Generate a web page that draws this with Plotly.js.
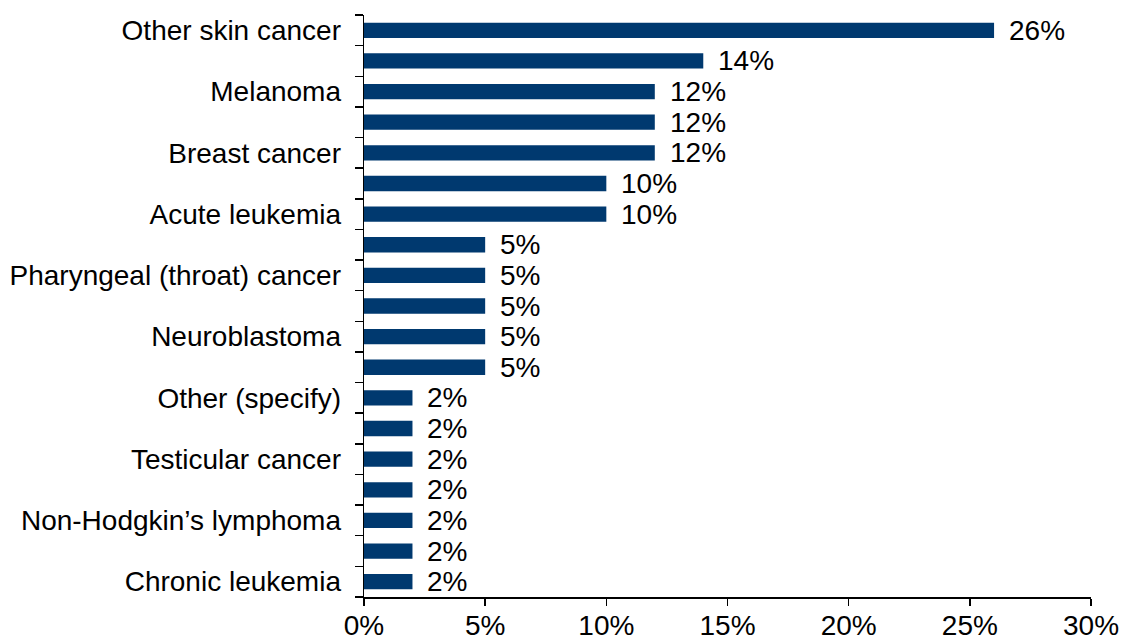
<!DOCTYPE html>
<html>
<head>
<meta charset="utf-8">
<script src="https://cdn.plot.ly/plotly-3.0.1.min.js"></script>
<style>
  html, body { margin: 0; padding: 0; background: #fff; }
  #chart { width: 1123px; height: 642px; }
</style>
</head>
<body>
<div id="chart"></div>
<script>
// Category labels (every other label is hidden in the original chart)
const categories = [
  'Other skin cancer', '',
  'Melanoma', '',
  'Breast cancer', '',
  'Acute leukemia', '',
  'Pharyngeal (throat) cancer', '',
  'Neuroblastoma', '',
  'Other (specify)', '',
  'Testicular cancer', '',
  "Non-Hodgkin\u2019s lymphoma", '',
  'Chronic leukemia'
];
// Percent values
const values = [26, 14, 12, 12, 12, 10, 10, 5, 5, 5, 5, 5, 2, 2, 2, 2, 2, 2, 2];
const xTickVals = [0, 5, 10, 15, 20, 25, 30];

const positions = categories.map((_, i) => i);
const labelVals = positions.filter(i => categories[i] !== '');
const labelText = labelVals.map(i => categories[i]);
const boundaries = [];
for (let i = 0; i <= categories.length; i++) boundaries.push(i - 0.5);

const FONT = 'Liberation Sans, Arial, sans-serif';
const FS = 28;

const traces = [
  {
    type: 'bar',
    orientation: 'h',
    x: values,
    y: positions,
    width: 0.5,
    marker: { color: '#00396F', line: { width: 0 } },
    hoverinfo: 'x+y',
    yaxis: 'y'
  },
  {
    type: 'scatter',
    x: [],
    y: [],
    yaxis: 'y2',
    showlegend: false,
    hoverinfo: 'skip'
  }
];

const annotations = values.map((v, i) => ({
  x: v, y: i, xref: 'x', yref: 'y',
  text: v + '%',
  showarrow: false,
  xanchor: 'left', yanchor: 'middle',
  xshift: 13,
  font: { family: FONT, size: FS, color: '#000' }
}));

const yRange = [categories.length - 0.5, -0.5];

const layout = {
  width: 1123,
  height: 642,
  margin: { l: 364, r: 32, t: 15, b: 45, pad: 0 },
  paper_bgcolor: '#fff',
  plot_bgcolor: '#fff',
  showlegend: false,
  font: { family: FONT, size: FS, color: '#000' },
  xaxis: {
    range: [0, 30],
    tickvals: xTickVals,
    ticktext: xTickVals.map(v => v + '%'),
    showgrid: false,
    zeroline: false,
    showline: true,
    linecolor: '#000',
    linewidth: 1.5,
    ticks: 'outside',
    ticklen: 7,
    tickwidth: 1.5,
    tickcolor: '#000',
    ticklabelstandoff: -4,
    tickfont: { family: FONT, size: FS, color: '#000' },
    fixedrange: true
  },
  yaxis: {
    range: yRange,
    tickvals: labelVals,
    ticktext: labelText,
    showgrid: false,
    zeroline: false,
    showline: false,
    ticks: '',
    ticklabelstandoff: 22,
    tickfont: { family: FONT, size: FS, color: '#000' },
    fixedrange: true
  },
  yaxis2: {
    overlaying: 'y',
    side: 'left',
    range: yRange,
    tickvals: boundaries,
    showticklabels: false,
    showgrid: false,
    zeroline: false,
    showline: true,
    linecolor: '#000',
    linewidth: 1.5,
    ticks: 'outside',
    ticklen: 8,
    tickwidth: 1.5,
    tickcolor: '#000',
    fixedrange: true
  },
  annotations: annotations
};

Plotly.newPlot('chart', traces, layout, { displayModeBar: false, staticPlot: true });
</script>
</body>
</html>
